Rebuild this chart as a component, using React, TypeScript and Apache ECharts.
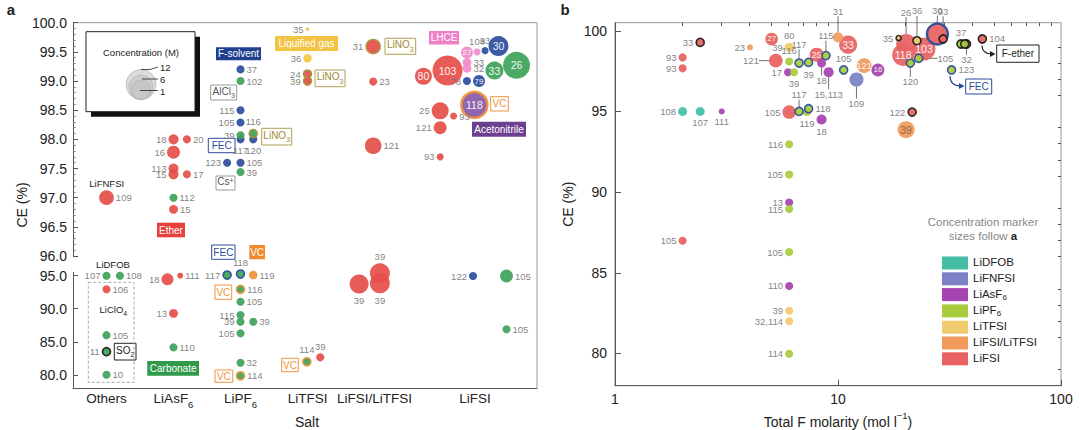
import React, { useEffect, useRef } from 'react';
import * as echarts from 'echarts';

const FONT = '"Liberation Sans", Arial, Helvetica, sans-serif';

// ---------------- Panel a data ----------------
const saltNames = ['Others', 'LiAsF6', 'LiPF6', 'LiTFSI', 'LiFSI/LiTFSI', 'LiFSI'];
const saltSlots = [0.5, 1.5, 2.5, 3.5, 4.5, 6.0];
const lowerCeTicks = [80, 85, 90, 95];

// [salt slot, CE (%), concentration (M), reference, additive]
type Pt = [number, number, number, string, string];

const aEther: Pt[] = [
  [0.5, 97.0, 3, '109', ''],
  [1.5, 98.0, 1.4, '18', ''],
  [1.7, 98.0, 0.9, '20', ''],
  [1.5, 97.78, 2.3, '16', ''],
  [1.5, 97.5, 1.4, '113', ''],
  [1.5, 97.4, 1.4, '15', ''],
  [1.7, 97.4, 0.9, '17', ''],
  [1.5, 96.8, 1.1, '15', ''],
  [0.5, 92.94, 0.9, '106', ''],
  [1.41, 94.45, 2, '18', ''],
  [1.6, 95.0, 0.5, '111', ''],
  [1.5, 89.3, 1.1, '13', ''],
  [3.5, 99.12, 0.9, '24', 'LiNO3'],
  [3.5, 99.0, 0.9, '39', 'LiNO3'],
  [3.69, 82.64, 0.9, '39', ''],
  [4.48, 99.59, 2.7, '31', 'LiNO3'],
  [4.48, 98.99, 0.9, '23', ''],
  [4.48, 97.89, 3.8, '121', ''],
  [4.58, 95.36, 5.5, '39', ''],
  [4.27, 93.74, 5, '39', ''],
  [4.58, 93.85, 5.5, '39', ''],
  [5.23, 99.08, 4, '80', ''],
  [5.59, 99.18, 12.5, '103', ''],
  [5.48, 98.49, 4, '25', ''],
  [5.68, 98.4, 0.7, '93', ''],
  [5.48, 98.2, 2.3, '121', ''],
  [5.48, 97.7, 0.7, '93', ''],
];
const aEtherPos = ['r', 'l', 'r', 'l', 'l,0,-1.5', 'l,0,3', 'r', 'r', 'r', 'l', 'r', 'l', 'l', 'l', 't', 'l', 'r', 'r', 't', 'b', 'b', 'i', 'i', 'l', 'r,-2,8', 'l', 'l'];

const aFSolvent: Pt[] = [
  [2.5, 99.2, 0.9, '37', ''],
  [2.5, 98.5, 0.9, '115', ''],
  [2.5, 98.29, 0.9, '105', ''],
  [2.5, 98.0, 0.9, '117', ''],
  [2.69, 98.0, 0.9, '120', ''],
  [2.3, 97.6, 0.9, '123', ''],
  [2.5, 97.6, 0.9, '105', ''],
  [6.15, 99.52, 0.7, '93', ''],
  [6.35, 99.6, 5.5, '30', ''],
  [5.88, 99.0, 0.9, '78', ''],
  [6.06, 99.0, 2, '79', ''],
  [5.97, 94.95, 0.9, '122', ''],
];
const aFSolventPos = ['r', 'l', 'l', 'b', 'b', 'l', 'r', 't,1,0', 'i', 'l,2,8', 'i', 'l'];

const aCarbonate: Pt[] = [
  [1.5, 97.0, 0.9, '112', ''],
  [2.5, 99.0, 0.9, '102', ''],
  [2.5, 98.07, 0.9, '39', ''],
  [2.69, 98.1, 0.9, '116', 'LiNO3'],
  [2.5, 97.44, 0.9, '39', ''],
  [0.5, 95.0, 0.9, '107', ''],
  [0.7, 95.0, 0.9, '108', ''],
  [0.5, 86.0, 0.9, '105', ''],
  [0.5, 83.5, 0.9, '11', 'SO2'],
  [0.5, 80.0, 0.9, '10', ''],
  [1.5, 84.15, 0.9, '110', ''],
  [2.3, 95.1, 0.9, '117', 'FEC'],
  [2.5, 95.25, 0.9, '118', 'FEC'],
  [2.5, 92.94, 0.9, '116', 'VC'],
  [2.5, 91.06, 0.9, '105', ''],
  [2.5, 89.05, 0.9, '115', ''],
  [2.5, 88.03, 0.9, '39', ''],
  [2.69, 88.03, 0.9, '39', ''],
  [2.5, 86.27, 0.9, '105', ''],
  [2.5, 81.82, 0.9, '32', ''],
  [2.5, 79.85, 0.9, '114', 'VC'],
  [3.49, 81.97, 0.9, '114', 'VC'],
  [6.29, 99.18, 4.5, '33', ''],
  [6.62, 99.27, 10, '26', ''],
  [6.47, 94.95, 2.3, '105', ''],
  [6.47, 86.9, 0.9, '105', ''],
];
const aCarbonatePos = ['r', 'r', 'l', 't', 'r', 'l', 'r', 'r', 'l', 'r', 'r', 'l', 't', 'r', 'r', 'l', 'l', 'r', 'l', 'r', 'r', 't,-5,0', 'i', 'i', 'r', 'r'];

const aLiqGas: Pt[] = [
  [3.5, 99.89, 0.2, '35', ''],
  [3.5, 99.39, 1, '36', ''],
];
const aLiqGasPos = ['l', 'l'];

const aLhce: Pt[] = [
  [5.88, 99.49, 2, '27', ''],
  [6.03, 99.5, 0.7, '104', ''],
  [5.88, 99.32, 1.1, '33', ''],
  [5.88, 99.22, 1.1, '32', ''],
];
const aLhcePos = ['i', 't,-6,0', 'r', 'r'];

const aAcn: Pt[] = [[5.99, 98.59, 9.4, '118', 'VC']];
const aAcnPos = ['i'];

const aVc: Pt[] = [[2.69, 95.1, 1, '119', '']];
const aVcPos = ['r'];

// ---------------- Panel b data ----------------
// [total F molarity (mol/l), CE (%), concentration (M), reference, additive]
const bLiDFOB: Pt[] = [
  [2.01, 95.0, 1.1, '108', ''],
  [2.41, 95.0, 1.1, '107', ''],
];
const bLiDFOBPos = ['l', 'b'];

const bLiFNFSI: Pt[] = [[12.1, 96.98, 2.8, '109', '']];
const bLiFNFSIPos = ['^b,0,10'];

const bLiAsF6: Pt[] = [
  [3.01, 95.0, 0.5, '111', ''],
  [5.97, 97.43, 0.9, '17', ''],
  [8.44, 98.0, 1.1, '18', ''],
  [9.08, 97.43, 1.4, '15,113', ''],
  [15.1, 97.57, 2.3, '16', ''],
  [8.44, 94.5, 1.4, '18', ''],
  [6.04, 89.36, 0.9, '13', ''],
  [6.04, 84.18, 0.9, '110', ''],
];
const bLiAsF6Pos = ['b', 'l', '^b,0,6', '^b,0,10', 'i', 'b', 'l', 'l'];

const bLiPF6: Pt[] = [
  [6.04, 98.09, 0.9, '116', ''],
  [6.35, 97.43, 0.9, '39', ''],
  [6.69, 98.0, 0.9, '117', 'FEC'],
  [7.38, 98.04, 0.9, '39', 'FEC'],
  [8.83, 98.46, 0.9, '115', 'FEC'],
  [10.6, 97.57, 0.9, '105', 'FEC'],
  [7.26, 94.96, 0.9, '119', ''],
  [6.69, 95.0, 0.9, '117', 'FEC'],
  [7.38, 95.17, 0.9, '118', 'FEC'],
  [6.04, 92.96, 0.9, '116', ''],
  [6.04, 91.09, 0.9, '105', ''],
  [6.04, 88.95, 0.9, '115', ''],
  [6.04, 86.28, 0.9, '105', ''],
  [6.04, 79.98, 0.9, '114', ''],
  [21.1, 98.0, 0.9, '120', 'FEC'],
  [23.0, 98.29, 0.9, '105', 'FEC'],
  [32.3, 97.57, 0.9, '123', 'FEC'],
  [35.6, 99.18, 0.9, '37', 'F-ether'],
  [37.0, 99.18, 0.9, '', 'F-ether'],
];
const bLiPF6Pos = ['t,-8,0', 'b', '^t,0,-7', 'b', '^t,0,-8', 't', 'b', '^t,0,-5', 'r', 'l', 'l', 'l', 'l', 'l', '^b,0,7', '^r,12,0', 'r', 't', 'n'];

const bLiTFSI: Pt[] = [
  [6.04, 98.97, 1.1, '80', ''],
  [6.04, 98.97, 1.1, '39', ''],
  [6.04, 82.65, 0.9, '39', ''],
  [6.04, 81.99, 0.9, '32,114', ''],
  [18.7, 99.55, 0.35, '35', 'F-ether'],
  [22.6, 99.38, 0.9, '36', 'F-ether'],
];
const bLiTFSIPos = ['t', 'l,0,3', 'l', 'l', 'l', '^t,0,-18'];

const bLiFSILiTFSI: Pt[] = [
  [4.03, 98.97, 0.5, '23', ''],
  [10.0, 99.59, 1.4, '31', ''],
  [13.1, 97.84, 3, '121', ''],
  [20.2, 93.87, 4, '39', ''],
];
const bLiFSILiTFSIPos = ['l', '^t,0,-14', 'i', 'I'];

const bLiFSI: Pt[] = [
  [20.2, 99.18, 5.5, '26', ''],
  [19.6, 98.5, 6.7, '118', ''],
  [24.3, 98.87, 7.3, '103', ''],
  [27.9, 99.8, 6, '30', 'F-solvent'],
  [29.6, 99.49, 0.9, '93', 'F-ether'],
  [37.7, 99.18, 0.9, '32', 'F-ether'],
  [44.4, 99.49, 0.9, '104', 'F-ether'],
  [21.5, 94.96, 0.9, '122', 'F-ether'],
  [2.41, 99.28, 0.9, '33', 'F-ether'],
  [2.01, 98.35, 0.9, '93', ''],
  [2.01, 97.67, 0.9, '93', ''],
  [2.01, 86.98, 0.9, '105', ''],
  [5.04, 99.49, 2.2, '27', ''],
  [5.26, 98.15, 2.6, '121', ''],
  [8.02, 98.52, 2.7, '25', ''],
  [6.04, 94.96, 2.5, '105', ''],
  [11.1, 99.14, 4.5, '33', ''],
];
const bLiFSIPos = ['^t,0,-15', 'i', 'i', '^t,0,-5', '^t,0,-16', '^b,0,4', 'r', 'l', 'l', 'l', 'l', 'l', 'i', '^l,-8,0', 'i', 'l', 'i'];

const bCeTicks = [80, 85, 90, 95, 100];
const bCeMinorTicks = [78, 79, 81, 82, 83, 84, 86, 87, 88, 89, 91, 92, 93, 94, 96, 97, 98, 99];
const bFMinorTicks = [2, 3, 4, 5, 6, 7, 8, 9, 20, 30, 40, 50, 60, 70, 80, 90];
const legendOrder = ['LiDFOB', 'LiFNFSI', 'LiAsF6', 'LiPF6', 'LiTFSI', 'LiFSI/LiTFSI', 'LiFSI'];

// ---------------- styling ----------------
const colA = {
  ether: '#e5504a', carbonate: '#3ea35a', fsolvent: '#2d4e9e', liqgas: '#f5c542',
  lhce: '#f08ccb', acn: '#8a5aa8', vc: '#f0923a',
};
const colB: Record<string, string> = {
  LiDFOB: '#44bfa6', LiFNFSI: '#7b82c6', LiAsF6: '#a544b0', LiPF6: '#a9cc3e',
  LiTFSI: '#f0cb6e', 'LiFSI/LiTFSI': '#f09b5c', LiFSI: '#e86262',
};
const ringColor: Record<string, string> = {
  LiNO3: '#a8923a', VC: '#f0923a', FEC: '#2b4c9b', SO2: '#1a1a1a', 'F-ether': '#1a1a1a', 'F-solvent': '#2b4c9b',
};
const sz = (c: number) => 8.5 * Math.sqrt(c);

const posMap: Record<string, string> = { l: 'left', r: 'right', t: 'top', b: 'bottom', i: 'inside', I: 'inside' };
function parsePos(code: string) {
  const lead = code.startsWith('^');
  const c = lead ? code.slice(1) : code;
  const [p, dx, dy] = c.split(',');
  return { p, dx: Number(dx || 0), dy: Number(dy || 0), lead };
}
function mkLabel(s: any, ref: string, conc: number) {
  if (s.p === 'n' || !ref) return { show: false };
  const lab: any = {
    show: true, position: posMap[s.p], formatter: ref, fontSize: 9.5, color: '#777',
    distance: 2, fontFamily: FONT,
  };
  const inFs = Math.min(10.5, Math.max(8, sz(conc) * 0.62));
  if (s.p === 'i') { lab.color = '#fff'; lab.fontSize = inFs; }
  if (s.p === 'I') { lab.color = '#8a5e3e'; lab.fontSize = inFs; }
  if (!s.lead && (s.dx || s.dy)) lab.offset = [s.dx, s.dy];
  return lab;
}
function buildSeries(name: string, pts: Pt[], pos: string[], color: string, xi: number, yi: number, keep: (p: Pt) => boolean) {
  const data: any[] = [];
  pts.forEach((pt, i) => {
    if (!keep(pt)) return;
    const [x, y, c, ref, add] = pt;
    const s = parsePos(pos[i] || 'n');
    const item: any = { value: [x, y, c], label: mkLabel(s, ref, c) };
    if (add) item.itemStyle = { borderColor: ringColor[add], borderWidth: c > 4 ? 2.5 : 1.6 };
    if (s.lead) {
      item.labelLine = { show: true, lineStyle: { color: '#333', width: 0.7 } };
      item.lay = { dx: s.dx, dy: s.dy };
    }
    data.push(item);
  });
  return {
    type: 'scatter', name, xAxisIndex: xi, yAxisIndex: yi, data,
    symbolSize: (v: number[]) => sz(v[2]),
    itemStyle: { color, opacity: 0.93 },
    labelLayout: (p: any) => (data[p.dataIndex] && data[p.dataIndex].lay) || {},
    silent: true,
    emphasis: { disabled: true },
  };
}
const toRich = (name: string) => '{n|' + name.replace(/(\d+)$/, '}{s|$1') + '}';

function box(x: number, y: number, w: number, h: number, text: string, o: any) {
  const tc = o.color;
  return {
    type: 'group',
    children: [
      {
        type: 'rect', shape: { x, y, width: w, height: h },
        style: { fill: o.fill || '#fff', stroke: o.stroke || null, lineWidth: 1 },
      },
      {
        type: 'text', x: x + w / 2, y: y + h / 2,
        style: {
          text, fill: tc, fontSize: 10, fontFamily: FONT,
          textAlign: 'center', textVerticalAlign: 'middle', align: 'center', verticalAlign: 'middle',
          rich: {
            n: { fill: tc, fontSize: 10, fontFamily: FONT, lineHeight: 13, verticalAlign: 'top' },
            s: { fill: tc, fontSize: 7, fontFamily: FONT, lineHeight: 7, verticalAlign: 'bottom' },
            p: { fill: tc, fontSize: 7, fontFamily: FONT, lineHeight: 7, verticalAlign: 'top' },
          },
        },
      },
    ],
  };
}
function txt(x: number, y: number, text: string, o: any = {}) {
  const fill = o.fill || '#222';
  const fs = o.fontSize || 10;
  return {
    type: 'text', x, y, rotation: o.rotation || 0,
    style: {
      text, fill, fontSize: fs, fontFamily: FONT, fontWeight: o.fontWeight || 'normal',
      textAlign: o.align || 'center', align: o.align || 'center',
      textVerticalAlign: 'middle', verticalAlign: 'middle',
      rich: {
        n: { fill, fontSize: fs, fontFamily: FONT, lineHeight: fs + 3, verticalAlign: 'top' },
        s: { fill, fontSize: fs * 0.72, fontFamily: FONT, lineHeight: fs * 0.72, verticalAlign: 'bottom' },
        b: { fill: '#222', fontSize: fs, fontFamily: FONT, fontWeight: 'bold' },
      },
    },
  };
}

const App: React.FC = () => {
  const ref = useRef<HTMLDivElement>(null);
  useEffect(() => {
    if (!ref.current) return;
    const chart = echarts.init(ref.current, null, { renderer: 'svg' });
    const up = (p: Pt) => p[1] >= 96;
    const lo = (p: Pt) => p[1] < 96;
    const all = () => true;
    const aGroups: [string, Pt[], string[], string][] = [
      ['ether', aEther, aEtherPos, colA.ether],
      ['fsolvent', aFSolvent, aFSolventPos, colA.fsolvent],
      ['carbonate', aCarbonate, aCarbonatePos, colA.carbonate],
      ['liqgas', aLiqGas, aLiqGasPos, colA.liqgas],
      ['lhce', aLhce, aLhcePos, colA.lhce],
      ['acn', aAcn, aAcnPos, colA.acn],
      ['vc', aVc, aVcPos, colA.vc],
    ];
    const series: any[] = [];
    aGroups.forEach(([n, pts, pos, c]) => {
      series.push(buildSeries('a-' + n + '-up', pts, pos, c, 0, 0, up));
      series.push(buildSeries('a-' + n + '-lo', pts, pos, c, 1, 1, lo));
    });
    const bGroups: [string, Pt[], string[]][] = [
      ['LiFSI', bLiFSI, bLiFSIPos],
      ['LiFSI/LiTFSI', bLiFSILiTFSI, bLiFSILiTFSIPos],
      ['LiTFSI', bLiTFSI, bLiTFSIPos],
      ['LiFNFSI', bLiFNFSI, bLiFNFSIPos],
      ['LiAsF6', bLiAsF6, bLiAsF6Pos],
      ['LiPF6', bLiPF6, bLiPF6Pos],
      ['LiDFOB', bLiDFOB, bLiDFOBPos],
    ];
    bGroups.forEach(([n, pts, pos]) => series.push(buildSeries(n, pts, pos, colB[n], 2, 2, all)));

    const axisLine = { show: true, onZero: false, lineStyle: { color: '#555', width: 1 } };
    const tickLbl = { fontSize: 14, color: '#222', fontFamily: FONT };
    const catRich = {
      n: { fontSize: 13.5, color: '#222', fontFamily: FONT, lineHeight: 18, verticalAlign: 'top' },
      s: { fontSize: 9.5, color: '#222', fontFamily: FONT, lineHeight: 10, verticalAlign: 'bottom' },
    };

    const graphic: any[] = [
      txt(11, 9, 'a', { fontSize: 15, fontWeight: 'bold' }),
      txt(565, 9, 'b', { fontSize: 15, fontWeight: 'bold' }),
      { type: 'line', shape: { x1: 73, y1: 22.7, x2: 537, y2: 22.7 }, style: { stroke: '#999', lineWidth: 1 } },
      { type: 'line', shape: { x1: 537, y1: 22.7, x2: 537, y2: 388 }, style: { stroke: '#999', lineWidth: 1 } },
      txt(22, 205, 'CE (%)', { fontSize: 14, rotation: Math.PI / 2 }),
      txt(307, 422, 'Salt', { fontSize: 14 }),
      // concentration legend
      { type: 'rect', shape: { x: 91, y: 36.7, width: 109, height: 80 }, style: { fill: '#111' } },
      { type: 'rect', shape: { x: 86, y: 31.7, width: 109, height: 80 }, style: { fill: '#fff', stroke: '#222', lineWidth: 1 } },
      txt(141, 52, 'Concentration (M)', { fontSize: 9.5 }),
      { type: 'circle', shape: { cx: 141, cy: 84.5, r: 15 }, style: { fill: 'rgba(190,190,190,0.55)', stroke: '#aaa', lineWidth: 0.6 } },
      { type: 'circle', shape: { cx: 141, cy: 87.5, r: 12 }, style: { fill: 'rgba(190,190,190,0.45)', stroke: '#aaa', lineWidth: 0.6 } },
      { type: 'circle', shape: { cx: 141, cy: 90, r: 9.5 }, style: { fill: 'rgba(190,190,190,0.45)', stroke: '#aaa', lineWidth: 0.6 } },
      { type: 'polyline', shape: { points: [[141, 69.5], [150, 69.5], [158, 67]] }, style: { stroke: '#222', lineWidth: 0.8, fill: null } },
      { type: 'line', shape: { x1: 142, y1: 79, x2: 158, y2: 79 }, style: { stroke: '#222', lineWidth: 0.8 } },
      { type: 'line', shape: { x1: 140, y1: 90.5, x2: 158, y2: 90.5 }, style: { stroke: '#222', lineWidth: 0.8 } },
      txt(160, 67, '12', { fontSize: 9.5, align: 'left' }),
      txt(160, 79, '6', { fontSize: 9.5, align: 'left' }),
      txt(160, 91, '1', { fontSize: 9.5, align: 'left' }),
      // filled class boxes
      box(216, 47.3, 45, 13, 'F-solvent', { fill: '#1f3f8f', color: '#fff' }),
      box(275, 36, 63, 15, 'Liquified gas', { fill: '#f3c343', color: '#fff' }),
      box(429, 31, 30, 13.5, 'LHCE', { fill: '#ee7fc6', color: '#fff' }),
      box(472, 121.7, 54, 15, 'Acetonitrile', { fill: '#6d3f90', color: '#fff' }),
      box(157, 222.7, 28, 14.6, 'Ether', { fill: '#e8403a', color: '#fff' }),
      box(147.3, 361, 51.7, 14.7, 'Carbonate', { fill: '#2f9a4a', color: '#fff' }),
      box(249.3, 245, 15.7, 14.3, 'VC', { fill: '#f08a30', color: '#fff' }),
      // outlined additive boxes
      box(210.7, 85, 26, 15, '{n|AlCl}{s|3}', { stroke: '#999', color: '#555' }),
      box(216, 176, 19, 14, '{n|Cs}{p|+}', { stroke: '#999', color: '#555' }),
      box(208.3, 138.3, 26.7, 14.4, 'FEC', { stroke: '#2b4c9b', color: '#2b4c9b' }),
      box(261.7, 128.3, 30, 16.7, '{n|LiNO}{s|3}', { stroke: '#b0a050', color: '#a08a30' }),
      box(315, 70, 30, 16.7, '{n|LiNO}{s|3}', { stroke: '#b0a050', color: '#a08a30' }),
      box(385, 38.3, 30.7, 16, '{n|LiNO}{s|3}', { stroke: '#b0a050', color: '#a08a30' }),
      box(490.7, 96.7, 17.6, 14.3, 'VC', { stroke: '#f0923a', color: '#f0923a' }),
      box(211.7, 245, 23.3, 14.3, 'FEC', { stroke: '#2b4c9b', color: '#2b4c9b' }),
      box(215, 285, 16.7, 14.3, 'VC', { stroke: '#f0923a', color: '#f0923a' }),
      box(215, 370, 17.7, 12.3, 'VC', { stroke: '#f0923a', color: '#f0923a' }),
      box(281.7, 358.3, 16.6, 13.4, 'VC', { stroke: '#f0923a', color: '#f0923a' }),
      box(114.3, 343.3, 21.7, 16.7, '{n|SO}{s|2}', { stroke: '#222', color: '#222' }),
      { type: 'rect', shape: { x: 88.3, y: 282.3, width: 45.7, height: 100 }, style: { fill: null, stroke: '#aaa', lineWidth: 1, lineDash: [3, 2] } },
      txt(106.7, 183.3, 'LiFNFSI', { fontSize: 9.5 }),
      txt(113, 264.3, 'LiDFOB', { fontSize: 9.5 }),
      txt(113.3, 311, '{n|LiClO}{s|4}', { fontSize: 9.5 }),
      // panel b annotations
      box(996.7, 45, 42.3, 17.3, 'F-ether', { stroke: '#222', color: '#222' }),
      box(965.7, 79, 26, 15, 'FEC', { stroke: '#2b4c9b', color: '#2b4c9b' }),
      { type: 'bezierCurve', shape: { x1: 982, y1: 45.5, cpx1: 982, cpy1: 54, x2: 992, y2: 54 }, style: { stroke: '#222', lineWidth: 1.2, fill: null } },
      { type: 'polygon', shape: { points: [[995.5, 54], [990, 51], [990, 57]] }, style: { fill: '#222' } },
      { type: 'bezierCurve', shape: { x1: 950, y1: 76, cpx1: 950, cpy1: 86, x2: 961, y2: 86 }, style: { stroke: '#2b4c9b', lineWidth: 1.2, fill: null } },
      { type: 'polygon', shape: { points: [[964.5, 86], [959, 83], [959, 89]] }, style: { fill: '#2b4c9b' } },
      txt(983, 222, 'Concentration marker', { fontSize: 11.5, fill: '#888' }),
      txt(983, 236, 'sizes follow {b|a}', { fontSize: 11.5, fill: '#888' }),
    ];

    const option: any = {
      animation: false,
      backgroundColor: '#fff',
      textStyle: { fontFamily: FONT },
      grid: [
        { left: 73, top: 22.7, width: 464, height: 233.3, outerBoundsMode: 'none' },
        { left: 73, top: 272.4, width: 464, height: 115.6, outerBoundsMode: 'none' },
        { left: 615, top: 22.7, width: 446, height: 363, show: true, borderColor: '#999', borderWidth: 1, outerBoundsMode: 'none' },
      ],
      xAxis: [
        { gridIndex: 0, type: 'value', min: 0, max: 6.925, show: false },
        {
          gridIndex: 1, type: 'value', min: 0, max: 6.925, axisLine, axisTick: { show: false }, splitLine: { show: false },
          axisLabel: {
            customValues: saltSlots, margin: 3,
            formatter: (v: number) => {
              const i = saltSlots.findIndex((s) => Math.abs(s - v) < 1e-6);
              return i < 0 ? '' : toRich(saltNames[i]);
            },
            rich: catRich,
          },
        },
        {
          gridIndex: 2, type: 'log', logBase: 10, min: 1, max: 100, axisLine,
          axisTick: { inside: true, length: 6, lineStyle: { color: '#555' } },
          splitLine: { show: false },
          axisLabel: { ...tickLbl, margin: 6 },
          name: '{n|Total F molarity (mol l}{p|−1}{n|)}', nameLocation: 'middle', nameGap: 13,
          nameTextStyle: {
            rich: {
              n: { fontSize: 14, color: '#222', fontFamily: FONT, lineHeight: 18, verticalAlign: 'bottom' },
              p: { fontSize: 9.5, color: '#222', fontFamily: FONT, lineHeight: 10, verticalAlign: 'top' },
            },
          },
        },
        {
          gridIndex: 2, type: 'log', logBase: 10, min: 1, max: 100, axisLine: { show: false },
          axisLabel: { show: false }, splitLine: { show: false },
          axisTick: { inside: true, length: 3.5, customValues: bFMinorTicks, lineStyle: { color: '#555' } },
        },
      ],
      yAxis: [
        {
          gridIndex: 0, type: 'value', min: 96, max: 100, interval: 0.5, axisLine,
          axisTick: { inside: true, length: 5, lineStyle: { color: '#555' } },
          minorTick: { show: true, splitNumber: 5, length: 2.5, lineStyle: { color: '#777' } },
          splitLine: { show: false },
          axisLabel: { ...tickLbl, margin: 6, formatter: (v: number) => v.toFixed(1) },
        },
        {
          gridIndex: 1, type: 'value', min: 78, max: 95.5, axisLine,
          axisTick: { inside: true, length: 5, customValues: lowerCeTicks, lineStyle: { color: '#555' } },
          splitLine: { show: false },
          axisLabel: { ...tickLbl, margin: 6, customValues: lowerCeTicks, formatter: (v: number) => v.toFixed(1) },
        },
        {
          gridIndex: 2, type: 'value', min: 78, max: 100.5, axisLine,
          axisTick: { inside: true, length: 6, customValues: bCeTicks, lineStyle: { color: '#555' } },
          splitLine: { show: false },
          axisLabel: { ...tickLbl, margin: 8, customValues: bCeTicks },
          name: 'CE (%)', nameLocation: 'middle', nameGap: 40, nameRotate: 90,
          nameTextStyle: { fontSize: 14, color: '#222', fontFamily: FONT },
        },
        {
          gridIndex: 2, type: 'value', min: 78, max: 100.5, axisLine: { show: false },
          axisLabel: { show: false }, splitLine: { show: false },
          axisTick: { inside: true, length: 3, customValues: bCeMinorTicks, lineStyle: { color: '#555' } },
        },
      ],
      legend: {
        data: legendOrder, orient: 'vertical', left: 937, top: 251, itemWidth: 26, itemHeight: 13, itemGap: 2.3,
        icon: 'rect', selectedMode: false,
        formatter: (n: string) => toRich(n),
        textStyle: {
          fontSize: 11.5, color: '#222', fontFamily: FONT,
          rich: {
            n: { fontSize: 11.5, color: '#222', fontFamily: FONT, lineHeight: 14, verticalAlign: 'top' },
            s: { fontSize: 8, color: '#222', fontFamily: FONT, lineHeight: 8, verticalAlign: 'bottom' },
          },
        },
        itemStyle: { opacity: 1, borderWidth: 0 },
      },
      series,
      graphic: { elements: graphic },
    };
    chart.setOption(option);
    return () => chart.dispose();
  }, []);
  return <div ref={ref} style={{ position: 'fixed', left: 0, top: 0, width: 1080, height: 430, background: '#fff' }} />;
};

export default App;
